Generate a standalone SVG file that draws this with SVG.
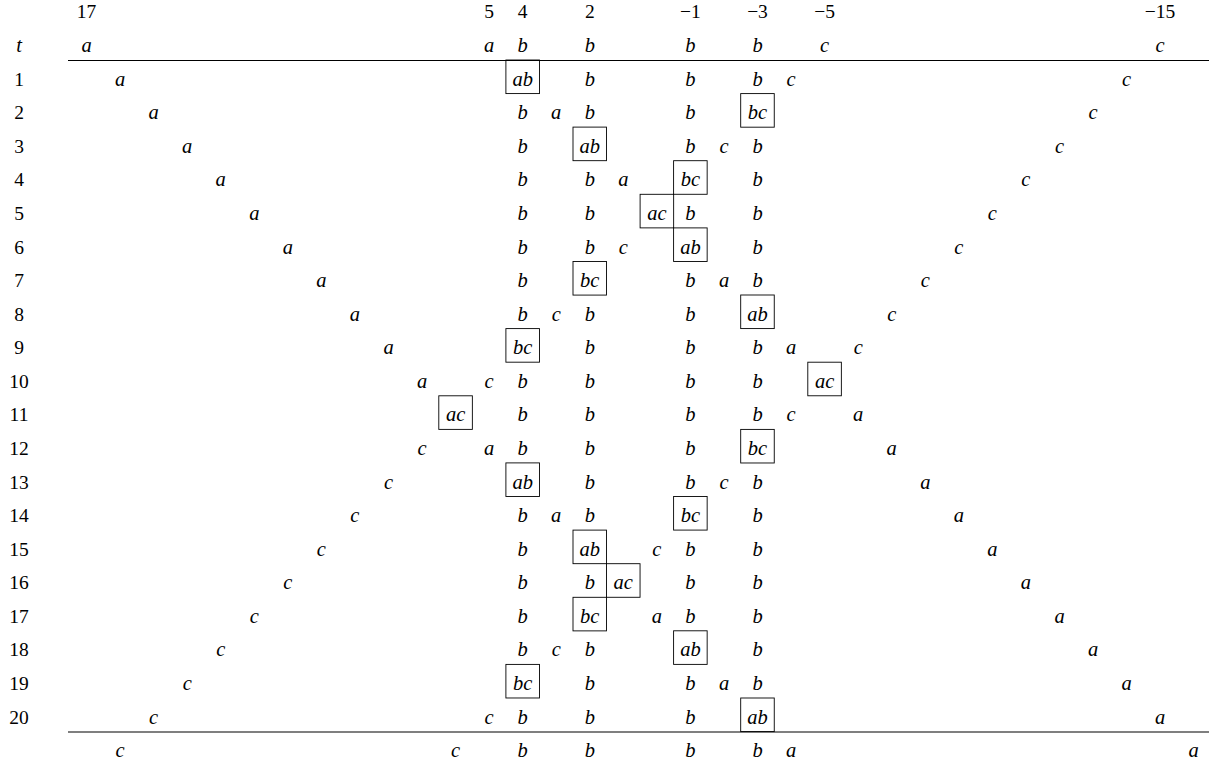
<svg xmlns="http://www.w3.org/2000/svg" width="1209" height="765" viewBox="0 0 1209 765">
<style>
text{font-family:"Liberation Serif","Times New Roman",serif;font-size:19.5px;fill:#000;text-anchor:middle}
.m{font-style:italic;font-size:20.5px}
.bx{fill:none;stroke:#000;stroke-width:0.9}
.rule{stroke:#000;stroke-width:1.1}
</style>
<rect width="1209" height="765" fill="#fff"/>
<g id="rules">
<line class="rule" x1="68" y1="60.5" x2="1209" y2="60.5"/>
<line class="rule" x1="68" y1="732" x2="1209" y2="732"/>
</g>
<g id="header" transform="translate(0,18.4)">
<text x="86.5">17</text><text x="489.1">5</text><text x="522.7">4</text><text x="589.8">2</text><text x="690.4">−1</text><text x="757.5">−3</text><text x="824.6">−5</text><text x="1160.1">−15</text>
</g>
<g id="row-t" transform="translate(0,52)">
<text x="19" class="m">t</text>
<text x="86.5" class="m">a</text><text x="489.1" class="m">a</text><text x="522.7" class="m">b</text><text x="589.8" class="m">b</text><text x="690.4" class="m">b</text><text x="757.5" class="m">b</text><text x="824.6" class="m">c</text><text x="1160.1" class="m">c</text>
</g>
<g id="row-1" transform="translate(0,85.6)">
<text x="19">1</text>
<text x="120.1" class="m">a</text>
<g id="box-1"><rect class="bx" x="505.9" y="-25.6" width="33.55" height="33.58"/><text x="522.7" class="m">ab</text></g>
<text x="589.8" class="m">b</text><text x="690.4" class="m">b</text><text x="757.5" class="m">b</text><text x="791.1" class="m">c</text><text x="1126.6" class="m">c</text>
</g>
<g id="row-2" transform="translate(0,119.2)">
<text x="19">2</text>
<text x="153.6" class="m">a</text><text x="522.7" class="m">b</text><text x="556.2" class="m">a</text><text x="589.8" class="m">b</text><text x="690.4" class="m">b</text>
<g id="box-2"><rect class="bx" x="740.7" y="-25.6" width="33.55" height="33.58"/><text x="757.5" class="m">bc</text></g>
<text x="1093" class="m">c</text>
</g>
<g id="row-3" transform="translate(0,152.7)">
<text x="19">3</text>
<text x="187.2" class="m">a</text><text x="522.7" class="m">b</text>
<g id="box-3"><rect class="bx" x="573" y="-25.6" width="33.55" height="33.58"/><text x="589.8" class="m">ab</text></g>
<text x="690.4" class="m">b</text><text x="724" class="m">c</text><text x="757.5" class="m">b</text><text x="1059.5" class="m">c</text>
</g>
<g id="row-4" transform="translate(0,186.3)">
<text x="19">4</text>
<text x="220.7" class="m">a</text><text x="522.7" class="m">b</text><text x="589.8" class="m">b</text><text x="623.3" class="m">a</text>
<g id="box-4"><rect class="bx" x="673.6" y="-25.6" width="33.55" height="33.58"/><text x="690.4" class="m">bc</text></g>
<text x="757.5" class="m">b</text><text x="1025.9" class="m">c</text>
</g>
<g id="row-5" transform="translate(0,219.9)">
<text x="19">5</text>
<text x="254.3" class="m">a</text><text x="522.7" class="m">b</text><text x="589.8" class="m">b</text>
<g id="box-5"><rect class="bx" x="640.1" y="-25.6" width="33.55" height="33.58"/><text x="656.9" class="m">ac</text></g>
<text x="690.4" class="m">b</text><text x="757.5" class="m">b</text><text x="992.4" class="m">c</text>
</g>
<g id="row-6" transform="translate(0,253.5)">
<text x="19">6</text>
<text x="287.8" class="m">a</text><text x="522.7" class="m">b</text><text x="589.8" class="m">b</text><text x="623.3" class="m">c</text>
<g id="box-6"><rect class="bx" x="673.6" y="-25.6" width="33.55" height="33.58"/><text x="690.4" class="m">ab</text></g>
<text x="757.5" class="m">b</text><text x="958.8" class="m">c</text>
</g>
<g id="row-7" transform="translate(0,287.1)">
<text x="19">7</text>
<text x="321.4" class="m">a</text><text x="522.7" class="m">b</text>
<g id="box-7"><rect class="bx" x="573" y="-25.6" width="33.55" height="33.58"/><text x="589.8" class="m">bc</text></g>
<text x="690.4" class="m">b</text><text x="724" class="m">a</text><text x="757.5" class="m">b</text><text x="925.3" class="m">c</text>
</g>
<g id="row-8" transform="translate(0,320.6)">
<text x="19">8</text>
<text x="354.9" class="m">a</text><text x="522.7" class="m">b</text><text x="556.2" class="m">c</text><text x="589.8" class="m">b</text><text x="690.4" class="m">b</text>
<g id="box-8"><rect class="bx" x="740.7" y="-25.6" width="33.55" height="33.58"/><text x="757.5" class="m">ab</text></g>
<text x="891.7" class="m">c</text>
</g>
<g id="row-9" transform="translate(0,354.2)">
<text x="19">9</text>
<text x="388.5" class="m">a</text>
<g id="box-9"><rect class="bx" x="505.9" y="-25.6" width="33.55" height="33.58"/><text x="522.7" class="m">bc</text></g>
<text x="589.8" class="m">b</text><text x="690.4" class="m">b</text><text x="757.5" class="m">b</text><text x="791.1" class="m">a</text><text x="858.2" class="m">c</text>
</g>
<g id="row-10" transform="translate(0,387.8)">
<text x="19">10</text>
<text x="422" class="m">a</text><text x="489.1" class="m">c</text><text x="522.7" class="m">b</text><text x="589.8" class="m">b</text><text x="690.4" class="m">b</text><text x="757.5" class="m">b</text>
<g id="box-10"><rect class="bx" x="807.8" y="-25.6" width="33.55" height="33.58"/><text x="824.6" class="m">ac</text></g>
</g>
<g id="row-11" transform="translate(0,421.4)">
<text x="19">11</text>
<g id="box-11"><rect class="bx" x="438.8" y="-25.6" width="33.55" height="33.58"/><text x="455.6" class="m">ac</text></g>
<text x="522.7" class="m">b</text><text x="589.8" class="m">b</text><text x="690.4" class="m">b</text><text x="757.5" class="m">b</text><text x="791.1" class="m">c</text><text x="858.2" class="m">a</text>
</g>
<g id="row-12" transform="translate(0,455)">
<text x="19">12</text>
<text x="422" class="m">c</text><text x="489.1" class="m">a</text><text x="522.7" class="m">b</text><text x="589.8" class="m">b</text><text x="690.4" class="m">b</text>
<g id="box-12"><rect class="bx" x="740.7" y="-25.6" width="33.55" height="33.58"/><text x="757.5" class="m">bc</text></g>
<text x="891.7" class="m">a</text>
</g>
<g id="row-13" transform="translate(0,488.5)">
<text x="19">13</text>
<text x="388.5" class="m">c</text>
<g id="box-13"><rect class="bx" x="505.9" y="-25.6" width="33.55" height="33.58"/><text x="522.7" class="m">ab</text></g>
<text x="589.8" class="m">b</text><text x="690.4" class="m">b</text><text x="724" class="m">c</text><text x="757.5" class="m">b</text><text x="925.3" class="m">a</text>
</g>
<g id="row-14" transform="translate(0,522.1)">
<text x="19">14</text>
<text x="354.9" class="m">c</text><text x="522.7" class="m">b</text><text x="556.2" class="m">a</text><text x="589.8" class="m">b</text>
<g id="box-14"><rect class="bx" x="673.6" y="-25.6" width="33.55" height="33.58"/><text x="690.4" class="m">bc</text></g>
<text x="757.5" class="m">b</text><text x="958.8" class="m">a</text>
</g>
<g id="row-15" transform="translate(0,555.7)">
<text x="19">15</text>
<text x="321.4" class="m">c</text><text x="522.7" class="m">b</text>
<g id="box-15"><rect class="bx" x="573" y="-25.6" width="33.55" height="33.58"/><text x="589.8" class="m">ab</text></g>
<text x="656.9" class="m">c</text><text x="690.4" class="m">b</text><text x="757.5" class="m">b</text><text x="992.4" class="m">a</text>
</g>
<g id="row-16" transform="translate(0,589.3)">
<text x="19">16</text>
<text x="287.8" class="m">c</text><text x="522.7" class="m">b</text><text x="589.8" class="m">b</text>
<g id="box-16"><rect class="bx" x="606.5" y="-25.6" width="33.55" height="33.58"/><text x="623.3" class="m">ac</text></g>
<text x="690.4" class="m">b</text><text x="757.5" class="m">b</text><text x="1025.9" class="m">a</text>
</g>
<g id="row-17" transform="translate(0,622.9)">
<text x="19">17</text>
<text x="254.3" class="m">c</text><text x="522.7" class="m">b</text>
<g id="box-17"><rect class="bx" x="573" y="-25.6" width="33.55" height="33.58"/><text x="589.8" class="m">bc</text></g>
<text x="656.9" class="m">a</text><text x="690.4" class="m">b</text><text x="757.5" class="m">b</text><text x="1059.5" class="m">a</text>
</g>
<g id="row-18" transform="translate(0,656.4)">
<text x="19">18</text>
<text x="220.7" class="m">c</text><text x="522.7" class="m">b</text><text x="556.2" class="m">c</text><text x="589.8" class="m">b</text>
<g id="box-18"><rect class="bx" x="673.6" y="-25.6" width="33.55" height="33.58"/><text x="690.4" class="m">ab</text></g>
<text x="757.5" class="m">b</text><text x="1093" class="m">a</text>
</g>
<g id="row-19" transform="translate(0,690)">
<text x="19">19</text>
<text x="187.2" class="m">c</text>
<g id="box-19"><rect class="bx" x="505.9" y="-25.6" width="33.55" height="33.58"/><text x="522.7" class="m">bc</text></g>
<text x="589.8" class="m">b</text><text x="690.4" class="m">b</text><text x="724" class="m">a</text><text x="757.5" class="m">b</text><text x="1126.6" class="m">a</text>
</g>
<g id="row-20" transform="translate(0,723.6)">
<text x="19">20</text>
<text x="153.6" class="m">c</text><text x="489.1" class="m">c</text><text x="522.7" class="m">b</text><text x="589.8" class="m">b</text><text x="690.4" class="m">b</text>
<g id="box-20"><rect class="bx" x="740.7" y="-25.6" width="33.55" height="33.58"/><text x="757.5" class="m">ab</text></g>
<text x="1160.1" class="m">a</text>
</g>
<g id="row-end" transform="translate(0,757.2)">
<text x="120.1" class="m">c</text><text x="455.6" class="m">c</text><text x="522.7" class="m">b</text><text x="589.8" class="m">b</text><text x="690.4" class="m">b</text><text x="757.5" class="m">b</text><text x="791.1" class="m">a</text><text x="1193.7" class="m">a</text>
</g>
</svg>
